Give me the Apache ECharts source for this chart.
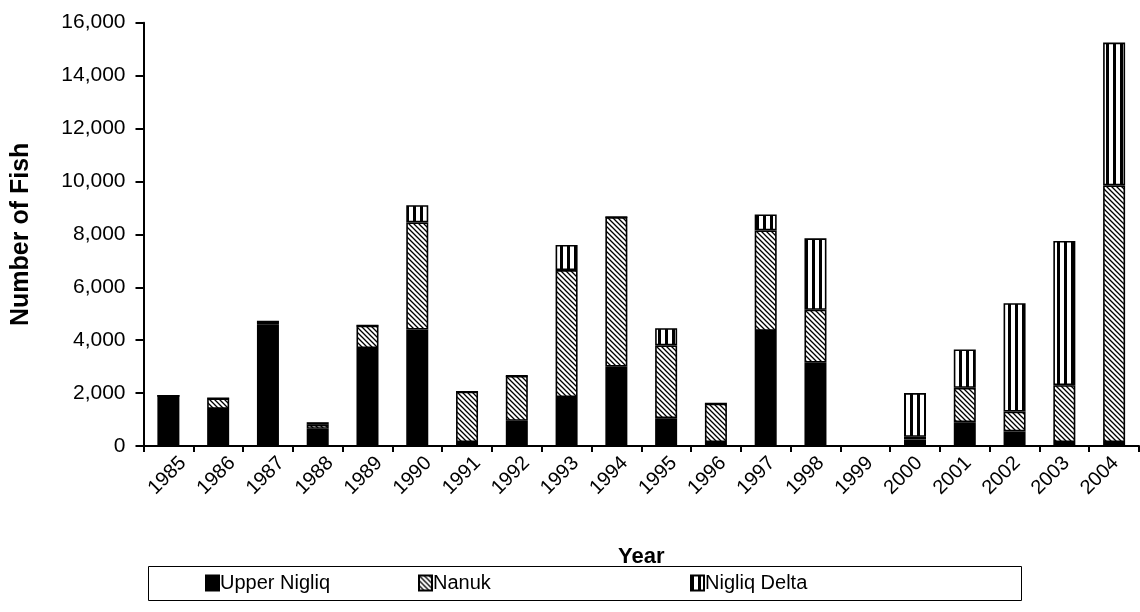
<!DOCTYPE html>
<html>
<head>
<meta charset="utf-8">
<script src="https://cdn.jsdelivr.net/npm/echarts@6/dist/echarts.min.js"></script>
<style>
html,body{margin:0;padding:0;background:#fff;}
#chart{width:1140px;height:612px;}
</style>
</head>
<body>
<div id="chart"></div>
<script>
const years = ['1985','1986','1987','1988','1989','1990','1991','1992','1993','1994','1995','1996','1997','1998','1999','2000','2001','2002','2003','2004'];
const upperNigliq = [1900,1400,4600,650,3700,4400,150,950,1850,3000,1050,150,4350,3150,0,250,900,550,150,150];
const nanuk = [0,400,100,150,850,4050,1900,1700,4800,5650,2750,1450,3800,2000,0,100,1300,750,2150,9700];
const nigliqDelta = [0,0,0,100,0,650,0,0,950,0,650,0,600,2700,0,1650,1450,4100,5450,5400];
const yTicks = [0,2000,4000,6000,8000,10000,12000,14000,16000];

function hatchPattern(){
  const s = 5;
  const c = document.createElement('canvas');
  c.width = s; c.height = s;
  const g = c.getContext('2d');
  g.fillStyle = '#fff'; g.fillRect(0,0,s,s);
  g.strokeStyle = '#000'; g.lineWidth = 1.3;
  g.beginPath();
  g.moveTo(-1,-1); g.lineTo(s+1,s+1);
  g.moveTo(-s-1,-1); g.lineTo(1,s+1);
  g.moveTo(s-1,-1); g.lineTo(2*s+1,s+1);
  g.stroke();
  return c;
}
function vertPattern(){
  const c = document.createElement('canvas');
  c.width = 7; c.height = 4;
  const g = c.getContext('2d');
  g.fillStyle = '#fff'; g.fillRect(0,0,7,4);
  g.fillStyle = '#000'; g.fillRect(0,0,3,4);
  return c;
}
const hatch = {image: hatchPattern(), repeat: 'repeat'};
const vert = {image: vertPattern(), repeat: 'repeat'};

const chart = echarts.init(document.getElementById('chart'), null, {renderer:'canvas'});
const fontFam = 'Liberation Sans, Arial, sans-serif';
const barStyle = (color) => ({color: color, borderColor:'#000', borderWidth:1.6});
const legendBase = {
  top: 568, icon:'rect', itemWidth: 13, itemHeight: 15, itemGap: 4,
  textStyle:{fontFamily:fontFam, fontSize:20, color:'#000', padding:[0,0,0,-4]},
  selectedMode:false
};
chart.setOption({
  animation:false,
  backgroundColor:'#fff',
  grid:[
    {left:143.5, right:1, top:22.7, bottom:166, containLabel:false},
    {left:158.5, right:-14, top:22.7, bottom:166, containLabel:false}
  ],
  graphic:[{type:'rect', shape:{x:148.5, y:566.5, width:873, height:34}, style:{fill:'none', stroke:'#000', lineWidth:1}}],
  legend:[
    Object.assign({}, legendBase, {left:200, data:['Upper Nigliq']}),
    Object.assign({}, legendBase, {left:413, data:['Nanuk']}),
    Object.assign({}, legendBase, {left:685, data:['Nigliq Delta']})
  ],
  xAxis:[{
    type:'category', data:years, boundaryGap:true, gridIndex:0,
    name:'Year', nameLocation:'middle', nameGap:100,
    nameTextStyle:{fontFamily:fontFam, fontSize:22, fontWeight:'bold', color:'#000'},
    axisLine:{lineStyle:{color:'#000', width:2}},
    axisTick:{show:true, alignWithLabel:false, length:6, lineStyle:{color:'#000', width:2}},
    axisLabel:{show:false}
  },{
    type:'category', data:years, boundaryGap:true, gridIndex:1,
    axisLine:{show:false}, axisTick:{show:false}, splitLine:{show:false},
    axisLabel:{rotate:45, fontFamily:fontFam, fontSize:20, color:'#000', margin:14, interval:0}
  }],
  yAxis:[{
    type:'value', min:0, max:16000, interval:2000, gridIndex:0,
    name:'Number of Fish', nameLocation:'middle', nameRotate:90, nameGap:110,
    nameTextStyle:{fontFamily:fontFam, fontSize:25, fontWeight:'bold', color:'#000'},
    axisLine:{show:true, lineStyle:{color:'#000', width:2}},
    axisTick:{show:true, length:8, lineStyle:{color:'#000', width:2}},
    splitLine:{show:false},
    axisLabel:{fontFamily:fontFam, fontSize:21, color:'#000', margin:18,
      formatter:(v)=> yTicks.includes(v) ? v.toLocaleString('en-US') : ''}
  },{
    type:'value', min:0, max:1, gridIndex:1, show:false
  }],
  series:[
    {name:'Upper Nigliq', type:'bar', stack:'a', data:upperNigliq, barWidth:22, itemStyle:barStyle('#000')},
    {name:'Nanuk', type:'bar', stack:'a', data:nanuk, barWidth:22, itemStyle:barStyle(hatch)},
    {name:'Nigliq Delta', type:'bar', stack:'a', data:nigliqDelta, barWidth:22, itemStyle:barStyle(vert)}
  ]
});
</script>
</body>
</html>
